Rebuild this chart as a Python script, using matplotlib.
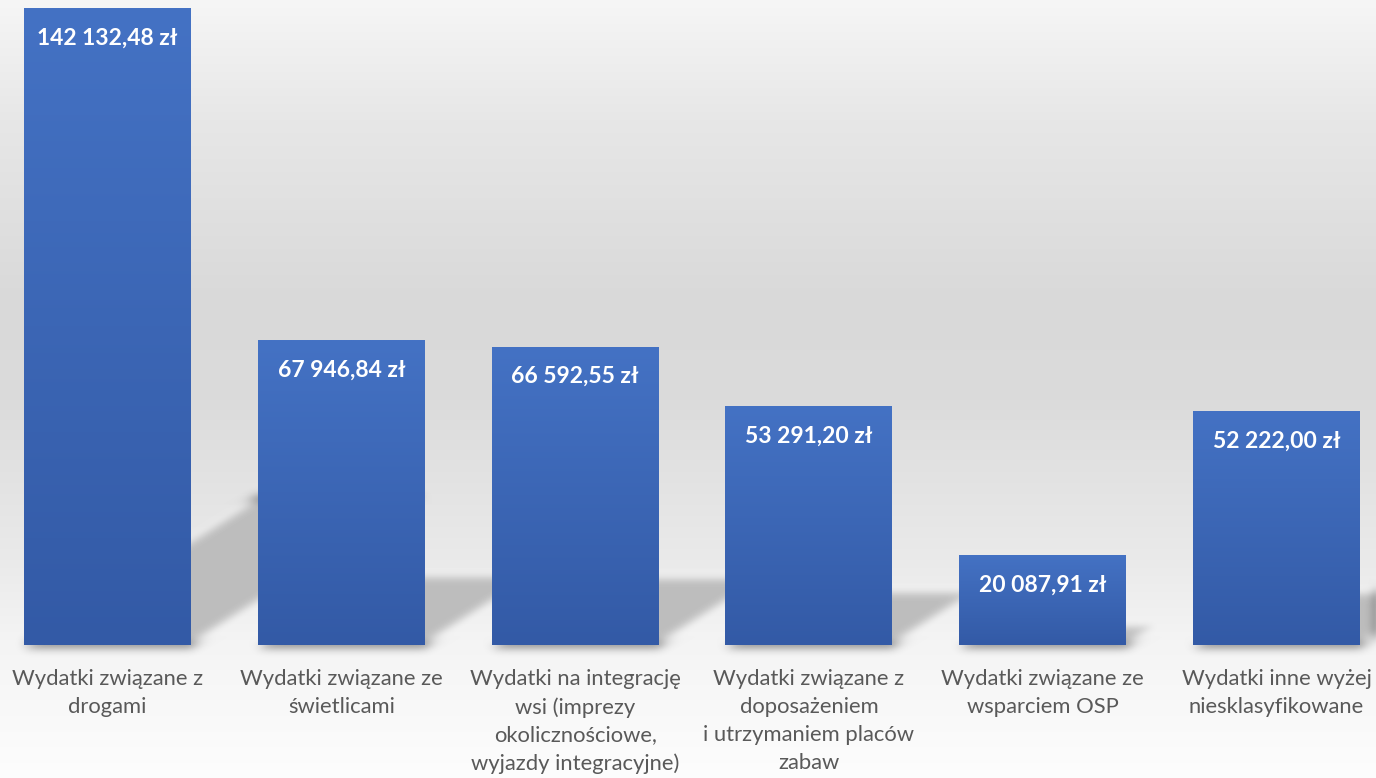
import numpy as np
import matplotlib
matplotlib.use("Agg")
import matplotlib.pyplot as plt
from matplotlib.patches import Polygon
from matplotlib.collections import PatchCollection
from matplotlib.transforms import Affine2D

plt.rcParams['font.family'] = ['Lato', 'DejaVu Sans']

# wydatki wg kategorii (zł)
kategorie = [
    "Wydatki związane z\ndrogami",
    "Wydatki związane ze\nświetlicami",
    "Wydatki na integrację\nwsi (imprezy\nokolicznościowe,\nwyjazdy integracyjne)",
    "Wydatki związane z\ndoposażeniem\ni utrzymaniem placów\nzabaw",
    "Wydatki związane ze\nwsparciem OSP",
    "Wydatki inne wyżej\nniesklasyfikowane",
]
kwoty = [142132.48, 67946.84, 66592.55, 53291.20, 20087.91, 52222.00]

W, H = 1376, 778
fig = plt.figure(figsize=(W / 100, H / 100), dpi=100)

# tlo - pionowy gradient szarosci
bg_ax = fig.add_axes([0, 0, 1, 1], zorder=-5)
stops_y = [0, 120, 300, 400, 460, 560, 640, 700, 778]
stops_v = [246, 231, 217, 219, 225, 234, 244, 248, 253]
grad = np.interp(np.arange(H), stops_y, stops_v) / 255.0
bg = np.repeat(grad[:, None], 2, axis=1)
bg_ax.imshow(np.dstack([bg, bg, bg]), aspect='auto', extent=[0, 1, 0, 1], interpolation='bilinear')
bg_ax.set_axis_off()

base_px = 645
ax = fig.add_axes([0, (H - base_px) / H, 1, base_px / H])
ax.patch.set_visible(False)
x = np.arange(len(kwoty))
spacing = 233.8
ax.set_xlim(-107.5 / spacing, (W - 107.5) / spacing)
ax.set_ylim(0, max(kwoty) * base_px / 637)
for s in ax.spines.values():
    s.set_visible(False)
ax.set_yticks([])
ax.set_xticks(x)
ax.set_xticklabels(kategorie, fontsize=15.8, color='#595959', linespacing=1.5)
ax.tick_params(axis='x', length=0, pad=17)


def blur(im, dpi, sigma=5):
    pad = int(3 * sigma)
    a = np.pad(im, [(pad, pad), (pad, pad), (0, 0)])
    r = np.arange(-pad, pad + 1)
    k = np.exp(-r ** 2 / (2 * sigma ** 2))
    k /= k.sum()
    out = np.zeros_like(a)
    for i, w in zip(r, k):
        out += w * np.roll(a, i, axis=0)
    a = out
    out = np.zeros_like(a)
    for i, w in zip(r, k):
        out += w * np.roll(a, i, axis=1)
    return out, -pad, -pad


# cienie slupkow rzucane ukosnie w prawo do gory
px_per_x = W / (ax.get_xlim()[1] - ax.get_xlim()[0])
px_per_y = base_px / (ax.get_ylim()[1] - ax.get_ylim()[0])
lean = 0.365 * px_per_y / px_per_x
squash = 0.23
shear = Affine2D(np.array([[1, lean, 0], [0, squash, 0], [0, 0, 1]]))
width = 167 / spacing
shadows = []
for xi, v in zip(x, kwoty):
    xl, xr = xi - width / 2, xi + width / 2
    shadows.append(Polygon([(xl, 0), (xr, 0), (xr, v), (xl, v)], closed=True))
pc = PatchCollection(shadows, facecolor='#bdbdbd', edgecolor='none',
                     transform=shear + ax.transData, zorder=1)
pc.set_agg_filter(blur)
pc.set_rasterized(True)
ax.add_collection(pc)

# slupki z gradientem
bars = ax.bar(x, kwoty, width=width, color='none', edgecolor='none', zorder=2)
g = np.linspace(0, 1, 256)[:, None]
top = np.array([68, 114, 196]) / 255
bottom = np.array([51, 90, 166]) / 255
cgrad = top[None, None, :] * (1 - g[:, :, None]) + bottom[None, None, :] * g[:, :, None]
for b, v in zip(bars, kwoty):
    x0 = b.get_x()
    im = ax.imshow(cgrad, aspect='auto', extent=[x0, x0 + b.get_width(), 0, v],
                   interpolation='bilinear', zorder=2)
    im.set_clip_path(b)

for xi, v in zip(x, kwoty):
    txt = f"{v:,.2f}".replace(",", " ").replace(".", ",") + " zł"
    ax.annotate(txt, (xi, v), xytext=(0, -30), textcoords='offset pixels',
                ha='center', va='center', color='white', fontsize=16.5,
                fontweight='bold', zorder=3)

fig.savefig("out.png", dpi=100)
